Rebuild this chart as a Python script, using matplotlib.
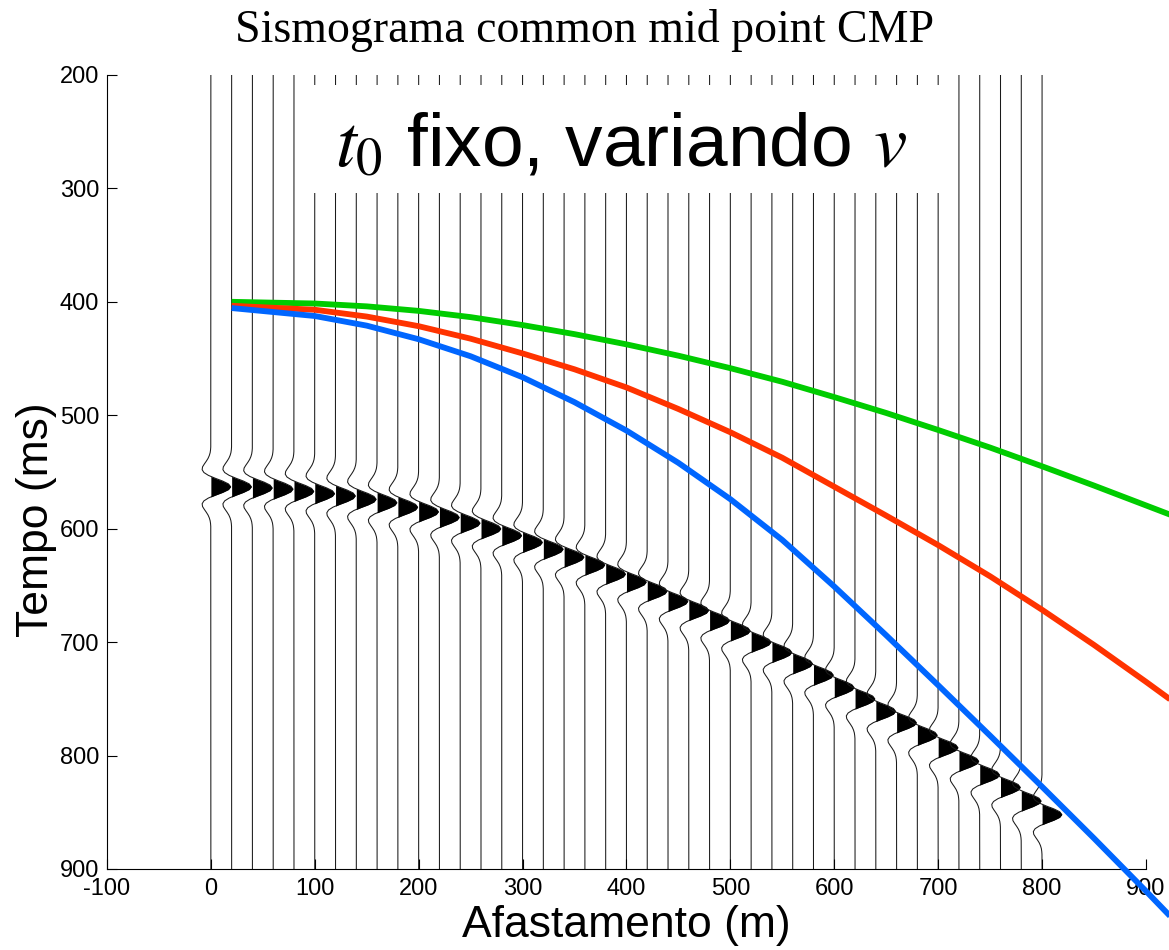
import matplotlib
matplotlib.use('Agg')
import matplotlib.pyplot as plt
import numpy as np
from matplotlib.patches import Rectangle

# ---------------- data ----------------
trace_offsets_m = [0, 20, 40, 60, 80, 100, 120, 140, 160, 180, 200, 220, 240, 260, 280,
                   300, 320, 340, 360, 380, 400, 420, 440, 460, 480, 500, 520, 540, 560,
                   580, 600, 620, 640, 660, 680, 700, 720, 740, 760, 780, 800]
arrival_ms = [563, 563, 564, 565, 567, 569, 571, 574, 577, 581, 585, 590, 595, 600, 606,
              612, 618, 625, 632, 640, 647, 655, 664, 672, 681, 690, 700, 709, 719,
              729, 740, 750, 761, 771, 782, 793, 805, 817, 828, 840, 852]

# wavelet shape (time offset from arrival, horizontal deflection in metres)
wavelet_dt_ms = [-35, -32.5, -30, -27.5, -25, -22.5, -20, -17.5, -15, -12.5, -10, -7.5, -5, -2.5,
                 0, 2.5, 5, 7.5, 10, 12.5, 15, 17.5, 20, 22.5, 25, 27.5, 30, 32.5, 35]
wavelet_amp_m = [-0.1, -0.3, -0.7, -1.5, -2.7, -4.4, -6.3, -8.0, -8.4, -6.7, -2.4, 4.1, 11.3, 16.9,
                 19.0, 16.9, 11.3, 4.1, -2.4, -6.7, -8.4, -8.0, -6.3, -4.4, -2.7, -1.5, -0.7, -0.3, -0.1]

curve_x_m = [20, 100, 150, 200, 250, 300, 350, 400, 450, 500, 550, 600, 650, 700, 750, 800, 850, 900, 930]
green_ms = [400, 401.5, 404, 408, 413.5, 420.5, 428.5, 437.5, 447.5, 458.5, 470.5, 484, 498, 513,
            528.5, 545, 562, 579.5, 590]
red_ms = [403.5, 407, 413, 421.5, 432.5, 445.5, 459.5, 475.5, 494.5, 515, 537.5, 563, 588.5,
          614.5, 642, 671.5, 702.5, 735, 755]
blue_ms = [405.5, 412.5, 421, 433, 448, 466.5, 488.5, 513.5, 542, 574, 610, 651, 694, 738,
           782.5, 827.5, 873, 919.5, 948]

x_ticks = [-100, 0, 100, 200, 300, 400, 500, 600, 700, 800, 900]
y_ticks = [200, 300, 400, 500, 600, 700, 800, 900]

title_text = 'Sismograma common mid point CMP'
annot_text = r'$t_0$ fixo, variando $v$'
xlabel_text = 'Afastamento (m)'
ylabel_text = 'Tempo (ms)'

# ---------------- drawing ----------------
plt.rcParams['font.family'] = ['Liberation Sans', 'DejaVu Sans']
plt.rcParams['mathtext.fontset'] = 'stix'
plt.rcParams['axes.unicode_minus'] = False

fig = plt.figure(figsize=(11.69, 9.5), dpi=100)
ax = fig.add_axes([0.0915, 0.0853, 0.8888, 0.8358])

t_min, t_max = 200, 900
dt = np.array(wavelet_dt_ms, dtype=float)
amp = np.array(wavelet_amp_m, dtype=float)
for x0, ta in zip(trace_offsets_m, arrival_ms):
    ys = np.concatenate(([t_min], ta + dt, [t_max]))
    xs = np.concatenate(([x0], x0 + amp, [x0]))
    ax.plot(xs, ys, color='#1a1a1a', lw=0.75, zorder=1)
    ax.fill_betweenx(ta + dt, x0, x0 + amp, where=amp > 0, interpolate=True,
                     color='black', lw=0, zorder=1)

# white box behind annotation
ax.add_patch(Rectangle((87, 209), 627, 95, facecolor='white', edgecolor='none', zorder=2))
ax.text(395, 281, annot_text, fontsize=54, ha='center', va='baseline', zorder=3)

ax.plot(curve_x_m, green_ms, color='#00cc00', lw=4.2, zorder=4, clip_on=False, solid_capstyle='butt')
ax.plot(curve_x_m, red_ms, color='#ff3300', lw=4.2, zorder=4, clip_on=False, solid_capstyle='butt')
ax.plot(curve_x_m, blue_ms, color='#0066ff', lw=4.2, zorder=4, clip_on=False, solid_capstyle='butt')

ax.set_xlim(-100, 900)
ax.set_ylim(900, 200)
ax.set_xticks(x_ticks)
ax.set_yticks(y_ticks)
for s in ['top', 'right']:
    ax.spines[s].set_visible(False)
for s in ['left', 'bottom']:
    ax.spines[s].set_linewidth(0.8)
ax.tick_params(direction='in', length=7, width=0.8, labelsize=17)
ax.tick_params(axis='x', pad=6.5)
ax.tick_params(axis='y', pad=5.5)

ax.set_xlabel(xlabel_text, fontsize=32)
ax.set_ylabel(ylabel_text, fontsize=32)
ax.yaxis.set_label_coords(-0.048, 0.44)
ax.xaxis.set_label_coords(0.5, -0.045)
ax.set_title(title_text, fontsize=33, family='Liberation Serif', pad=24, x=0.4596)

fig.savefig('out.png', dpi=100)
